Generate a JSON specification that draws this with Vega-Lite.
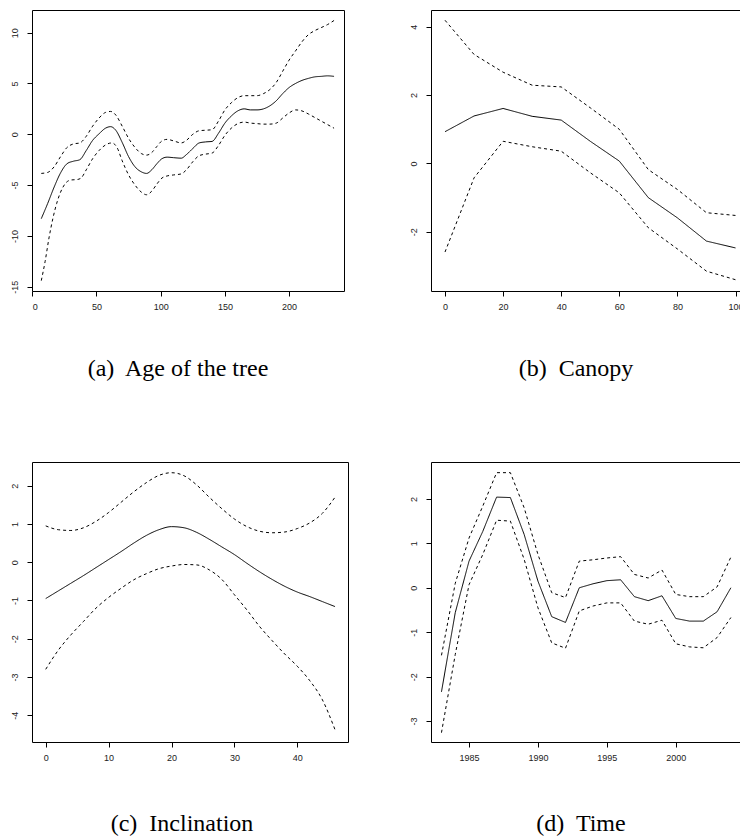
{
  "$schema": "https://vega.github.io/schema/vega-lite/v6.json",
  "background": "white",
  "padding": {"left": 9, "top": 9, "right": 0, "bottom": 0},
  "config": {
    "view": {"stroke": "black", "strokeWidth": 1},
    "axis": {"domain": false, "grid": false, "ticks": true, "tickColor": "black", "tickSize": 5, "labelFont": "Liberation Sans", "labelFontSize": 9, "labelColor": "#222", "labelPadding": 6},
    "axisY": {"labelAngle": -90, "labelAlign": "center", "labelBaseline": "bottom", "labelPadding": 8},
    "line": {"color": "black", "strokeWidth": 1}
  },
  "datasets": {
    "a": [
      {"x": 7, "y": -8.3, "s": "fit"}, {"x": 12, "y": -6.8, "s": "fit"}, {"x": 17, "y": -5.2, "s": "fit"}, {"x": 22, "y": -3.8, "s": "fit"}, {"x": 27, "y": -2.9, "s": "fit"}, {"x": 32, "y": -2.65, "s": "fit"}, {"x": 37, "y": -2.5, "s": "fit"}, {"x": 42, "y": -1.6, "s": "fit"}, {"x": 47, "y": -0.6, "s": "fit"}, {"x": 52, "y": 0.05, "s": "fit"}, {"x": 57, "y": 0.6, "s": "fit"}, {"x": 61, "y": 0.75, "s": "fit"}, {"x": 65, "y": 0.4, "s": "fit"}, {"x": 70, "y": -0.8, "s": "fit"}, {"x": 75, "y": -2.2, "s": "fit"}, {"x": 80, "y": -3.2, "s": "fit"}, {"x": 85, "y": -3.7, "s": "fit"}, {"x": 89, "y": -3.85, "s": "fit"}, {"x": 93, "y": -3.5, "s": "fit"}, {"x": 97, "y": -2.9, "s": "fit"}, {"x": 101, "y": -2.4, "s": "fit"}, {"x": 105, "y": -2.25, "s": "fit"}, {"x": 110, "y": -2.3, "s": "fit"}, {"x": 116, "y": -2.35, "s": "fit"}, {"x": 120, "y": -2.0, "s": "fit"}, {"x": 125, "y": -1.4, "s": "fit"}, {"x": 130, "y": -0.85, "s": "fit"}, {"x": 135, "y": -0.75, "s": "fit"}, {"x": 140, "y": -0.7, "s": "fit"}, {"x": 145, "y": 0.1, "s": "fit"}, {"x": 150, "y": 1.1, "s": "fit"}, {"x": 155, "y": 1.8, "s": "fit"}, {"x": 160, "y": 2.3, "s": "fit"}, {"x": 165, "y": 2.5, "s": "fit"}, {"x": 170, "y": 2.4, "s": "fit"}, {"x": 175, "y": 2.4, "s": "fit"}, {"x": 180, "y": 2.5, "s": "fit"}, {"x": 185, "y": 2.8, "s": "fit"}, {"x": 190, "y": 3.3, "s": "fit"}, {"x": 195, "y": 4.0, "s": "fit"}, {"x": 200, "y": 4.6, "s": "fit"}, {"x": 205, "y": 5.0, "s": "fit"}, {"x": 210, "y": 5.3, "s": "fit"}, {"x": 215, "y": 5.5, "s": "fit"}, {"x": 220, "y": 5.65, "s": "fit"}, {"x": 225, "y": 5.7, "s": "fit"}, {"x": 230, "y": 5.75, "s": "fit"}, {"x": 235, "y": 5.7, "s": "fit"},
      {"x": 7, "y": -3.85, "s": "upper"}, {"x": 12, "y": -3.75, "s": "upper"}, {"x": 17, "y": -3.2, "s": "upper"}, {"x": 22, "y": -2.2, "s": "upper"}, {"x": 27, "y": -1.3, "s": "upper"}, {"x": 32, "y": -0.95, "s": "upper"}, {"x": 37, "y": -0.85, "s": "upper"}, {"x": 42, "y": -0.2, "s": "upper"}, {"x": 47, "y": 0.8, "s": "upper"}, {"x": 52, "y": 1.6, "s": "upper"}, {"x": 57, "y": 2.15, "s": "upper"}, {"x": 61, "y": 2.25, "s": "upper"}, {"x": 65, "y": 1.9, "s": "upper"}, {"x": 70, "y": 0.8, "s": "upper"}, {"x": 75, "y": -0.4, "s": "upper"}, {"x": 80, "y": -1.3, "s": "upper"}, {"x": 85, "y": -1.9, "s": "upper"}, {"x": 89, "y": -2.05, "s": "upper"}, {"x": 93, "y": -1.8, "s": "upper"}, {"x": 97, "y": -1.2, "s": "upper"}, {"x": 101, "y": -0.65, "s": "upper"}, {"x": 105, "y": -0.5, "s": "upper"}, {"x": 110, "y": -0.65, "s": "upper"}, {"x": 116, "y": -0.85, "s": "upper"}, {"x": 120, "y": -0.6, "s": "upper"}, {"x": 125, "y": 0.0, "s": "upper"}, {"x": 130, "y": 0.35, "s": "upper"}, {"x": 135, "y": 0.4, "s": "upper"}, {"x": 140, "y": 0.45, "s": "upper"}, {"x": 145, "y": 1.3, "s": "upper"}, {"x": 150, "y": 2.4, "s": "upper"}, {"x": 155, "y": 3.1, "s": "upper"}, {"x": 160, "y": 3.6, "s": "upper"}, {"x": 165, "y": 3.8, "s": "upper"}, {"x": 170, "y": 3.8, "s": "upper"}, {"x": 175, "y": 3.8, "s": "upper"}, {"x": 180, "y": 4.0, "s": "upper"}, {"x": 185, "y": 4.4, "s": "upper"}, {"x": 190, "y": 5.1, "s": "upper"}, {"x": 195, "y": 6.2, "s": "upper"}, {"x": 200, "y": 7.3, "s": "upper"}, {"x": 205, "y": 8.2, "s": "upper"}, {"x": 210, "y": 9.1, "s": "upper"}, {"x": 215, "y": 9.8, "s": "upper"}, {"x": 220, "y": 10.2, "s": "upper"}, {"x": 225, "y": 10.5, "s": "upper"}, {"x": 230, "y": 10.8, "s": "upper"}, {"x": 235, "y": 11.2, "s": "upper"},
      {"x": 7, "y": -14.4, "s": "lower"}, {"x": 10, "y": -12.5, "s": "lower"}, {"x": 13, "y": -10.2, "s": "lower"}, {"x": 16, "y": -8.3, "s": "lower"}, {"x": 19, "y": -6.8, "s": "lower"}, {"x": 22, "y": -5.7, "s": "lower"}, {"x": 26, "y": -4.8, "s": "lower"}, {"x": 30, "y": -4.5, "s": "lower"}, {"x": 35, "y": -4.45, "s": "lower"}, {"x": 38, "y": -4.3, "s": "lower"}, {"x": 42, "y": -3.5, "s": "lower"}, {"x": 47, "y": -2.4, "s": "lower"}, {"x": 52, "y": -1.6, "s": "lower"}, {"x": 57, "y": -1.05, "s": "lower"}, {"x": 62, "y": -0.85, "s": "lower"}, {"x": 66, "y": -1.3, "s": "lower"}, {"x": 70, "y": -2.6, "s": "lower"}, {"x": 75, "y": -4.0, "s": "lower"}, {"x": 80, "y": -5.0, "s": "lower"}, {"x": 85, "y": -5.7, "s": "lower"}, {"x": 89, "y": -5.95, "s": "lower"}, {"x": 93, "y": -5.6, "s": "lower"}, {"x": 97, "y": -4.9, "s": "lower"}, {"x": 101, "y": -4.3, "s": "lower"}, {"x": 105, "y": -4.1, "s": "lower"}, {"x": 110, "y": -4.0, "s": "lower"}, {"x": 116, "y": -3.9, "s": "lower"}, {"x": 120, "y": -3.5, "s": "lower"}, {"x": 125, "y": -2.7, "s": "lower"}, {"x": 130, "y": -2.1, "s": "lower"}, {"x": 135, "y": -1.95, "s": "lower"}, {"x": 140, "y": -1.85, "s": "lower"}, {"x": 145, "y": -1.1, "s": "lower"}, {"x": 150, "y": -0.1, "s": "lower"}, {"x": 155, "y": 0.6, "s": "lower"}, {"x": 160, "y": 1.05, "s": "lower"}, {"x": 165, "y": 1.2, "s": "lower"}, {"x": 170, "y": 1.1, "s": "lower"}, {"x": 175, "y": 1.05, "s": "lower"}, {"x": 180, "y": 1.0, "s": "lower"}, {"x": 185, "y": 1.0, "s": "lower"}, {"x": 190, "y": 1.1, "s": "lower"}, {"x": 195, "y": 1.6, "s": "lower"}, {"x": 200, "y": 2.1, "s": "lower"}, {"x": 205, "y": 2.4, "s": "lower"}, {"x": 210, "y": 2.3, "s": "lower"}, {"x": 215, "y": 2.0, "s": "lower"}, {"x": 220, "y": 1.65, "s": "lower"}, {"x": 225, "y": 1.3, "s": "lower"}, {"x": 230, "y": 0.95, "s": "lower"}, {"x": 235, "y": 0.6, "s": "lower"}
    ],
    "b": [
      {"x": 0, "y": 0.93, "s": "fit"}, {"x": 10, "y": 1.39, "s": "fit"}, {"x": 20, "y": 1.61, "s": "fit"}, {"x": 30, "y": 1.38, "s": "fit"}, {"x": 40, "y": 1.27, "s": "fit"}, {"x": 50, "y": 0.65, "s": "fit"}, {"x": 60, "y": 0.07, "s": "fit"}, {"x": 70, "y": -1.0, "s": "fit"}, {"x": 80, "y": -1.59, "s": "fit"}, {"x": 90, "y": -2.27, "s": "fit"}, {"x": 100, "y": -2.47, "s": "fit"},
      {"x": 0, "y": 4.19, "s": "upper"}, {"x": 10, "y": 3.19, "s": "upper"}, {"x": 20, "y": 2.67, "s": "upper"}, {"x": 30, "y": 2.29, "s": "upper"}, {"x": 40, "y": 2.24, "s": "upper"}, {"x": 50, "y": 1.63, "s": "upper"}, {"x": 60, "y": 1.0, "s": "upper"}, {"x": 70, "y": -0.18, "s": "upper"}, {"x": 80, "y": -0.76, "s": "upper"}, {"x": 90, "y": -1.44, "s": "upper"}, {"x": 100, "y": -1.52, "s": "upper"},
      {"x": 0, "y": -2.59, "s": "lower"}, {"x": 10, "y": -0.42, "s": "lower"}, {"x": 20, "y": 0.65, "s": "lower"}, {"x": 30, "y": 0.49, "s": "lower"}, {"x": 40, "y": 0.36, "s": "lower"}, {"x": 50, "y": -0.27, "s": "lower"}, {"x": 60, "y": -0.86, "s": "lower"}, {"x": 70, "y": -1.88, "s": "lower"}, {"x": 80, "y": -2.5, "s": "lower"}, {"x": 90, "y": -3.15, "s": "lower"}, {"x": 100, "y": -3.4, "s": "lower"}
    ],
    "c": [
      {"x": 0, "y": -0.95, "s": "fit"}, {"x": 2, "y": -0.75, "s": "fit"}, {"x": 4, "y": -0.55, "s": "fit"}, {"x": 6, "y": -0.35, "s": "fit"}, {"x": 8, "y": -0.14, "s": "fit"}, {"x": 10, "y": 0.07, "s": "fit"}, {"x": 12, "y": 0.28, "s": "fit"}, {"x": 14, "y": 0.5, "s": "fit"}, {"x": 16, "y": 0.7, "s": "fit"}, {"x": 18, "y": 0.85, "s": "fit"}, {"x": 20, "y": 0.93, "s": "fit"}, {"x": 22, "y": 0.9, "s": "fit"}, {"x": 24, "y": 0.78, "s": "fit"}, {"x": 26, "y": 0.6, "s": "fit"}, {"x": 28, "y": 0.4, "s": "fit"}, {"x": 30, "y": 0.2, "s": "fit"}, {"x": 32, "y": -0.03, "s": "fit"}, {"x": 34, "y": -0.25, "s": "fit"}, {"x": 36, "y": -0.45, "s": "fit"}, {"x": 38, "y": -0.63, "s": "fit"}, {"x": 40, "y": -0.78, "s": "fit"}, {"x": 42, "y": -0.9, "s": "fit"}, {"x": 44, "y": -1.03, "s": "fit"}, {"x": 46, "y": -1.16, "s": "fit"},
      {"x": 0, "y": 0.95, "s": "upper"}, {"x": 2, "y": 0.85, "s": "upper"}, {"x": 4, "y": 0.83, "s": "upper"}, {"x": 6, "y": 0.9, "s": "upper"}, {"x": 8, "y": 1.07, "s": "upper"}, {"x": 10, "y": 1.3, "s": "upper"}, {"x": 12, "y": 1.57, "s": "upper"}, {"x": 14, "y": 1.84, "s": "upper"}, {"x": 16, "y": 2.08, "s": "upper"}, {"x": 18, "y": 2.27, "s": "upper"}, {"x": 20, "y": 2.34, "s": "upper"}, {"x": 22, "y": 2.26, "s": "upper"}, {"x": 24, "y": 2.02, "s": "upper"}, {"x": 26, "y": 1.7, "s": "upper"}, {"x": 28, "y": 1.4, "s": "upper"}, {"x": 30, "y": 1.13, "s": "upper"}, {"x": 32, "y": 0.93, "s": "upper"}, {"x": 34, "y": 0.81, "s": "upper"}, {"x": 36, "y": 0.77, "s": "upper"}, {"x": 38, "y": 0.79, "s": "upper"}, {"x": 40, "y": 0.88, "s": "upper"}, {"x": 42, "y": 1.03, "s": "upper"}, {"x": 44, "y": 1.28, "s": "upper"}, {"x": 46, "y": 1.7, "s": "upper"},
      {"x": 0, "y": -2.8, "s": "lower"}, {"x": 2, "y": -2.3, "s": "lower"}, {"x": 4, "y": -1.9, "s": "lower"}, {"x": 6, "y": -1.55, "s": "lower"}, {"x": 8, "y": -1.2, "s": "lower"}, {"x": 10, "y": -0.92, "s": "lower"}, {"x": 12, "y": -0.68, "s": "lower"}, {"x": 14, "y": -0.46, "s": "lower"}, {"x": 16, "y": -0.3, "s": "lower"}, {"x": 18, "y": -0.17, "s": "lower"}, {"x": 20, "y": -0.1, "s": "lower"}, {"x": 22, "y": -0.06, "s": "lower"}, {"x": 24, "y": -0.07, "s": "lower"}, {"x": 26, "y": -0.2, "s": "lower"}, {"x": 28, "y": -0.45, "s": "lower"}, {"x": 30, "y": -0.85, "s": "lower"}, {"x": 32, "y": -1.25, "s": "lower"}, {"x": 34, "y": -1.68, "s": "lower"}, {"x": 36, "y": -2.05, "s": "lower"}, {"x": 38, "y": -2.4, "s": "lower"}, {"x": 40, "y": -2.72, "s": "lower"}, {"x": 42, "y": -3.1, "s": "lower"}, {"x": 44, "y": -3.6, "s": "lower"}, {"x": 46, "y": -4.38, "s": "lower"}
    ],
    "d": [
      {"x": 1983, "y": -2.34, "s": "fit"}, {"x": 1984, "y": -0.56, "s": "fit"}, {"x": 1985, "y": 0.6, "s": "fit"}, {"x": 1986, "y": 1.27, "s": "fit"}, {"x": 1987, "y": 2.04, "s": "fit"}, {"x": 1988, "y": 2.03, "s": "fit"}, {"x": 1989, "y": 1.2, "s": "fit"}, {"x": 1990, "y": 0.15, "s": "fit"}, {"x": 1991, "y": -0.65, "s": "fit"}, {"x": 1992, "y": -0.78, "s": "fit"}, {"x": 1993, "y": 0.0, "s": "fit"}, {"x": 1994, "y": 0.09, "s": "fit"}, {"x": 1995, "y": 0.16, "s": "fit"}, {"x": 1996, "y": 0.18, "s": "fit"}, {"x": 1997, "y": -0.2, "s": "fit"}, {"x": 1998, "y": -0.29, "s": "fit"}, {"x": 1999, "y": -0.18, "s": "fit"}, {"x": 2000, "y": -0.69, "s": "fit"}, {"x": 2001, "y": -0.75, "s": "fit"}, {"x": 2002, "y": -0.75, "s": "fit"}, {"x": 2003, "y": -0.54, "s": "fit"}, {"x": 2004, "y": 0.0, "s": "fit"},
      {"x": 1983, "y": -1.52, "s": "upper"}, {"x": 1984, "y": 0.1, "s": "upper"}, {"x": 1985, "y": 1.12, "s": "upper"}, {"x": 1986, "y": 1.84, "s": "upper"}, {"x": 1987, "y": 2.59, "s": "upper"}, {"x": 1988, "y": 2.59, "s": "upper"}, {"x": 1989, "y": 1.8, "s": "upper"}, {"x": 1990, "y": 0.75, "s": "upper"}, {"x": 1991, "y": -0.11, "s": "upper"}, {"x": 1992, "y": -0.22, "s": "upper"}, {"x": 1993, "y": 0.6, "s": "upper"}, {"x": 1994, "y": 0.63, "s": "upper"}, {"x": 1995, "y": 0.67, "s": "upper"}, {"x": 1996, "y": 0.7, "s": "upper"}, {"x": 1997, "y": 0.3, "s": "upper"}, {"x": 1998, "y": 0.22, "s": "upper"}, {"x": 1999, "y": 0.4, "s": "upper"}, {"x": 2000, "y": -0.15, "s": "upper"}, {"x": 2001, "y": -0.2, "s": "upper"}, {"x": 2002, "y": -0.2, "s": "upper"}, {"x": 2003, "y": 0.02, "s": "upper"}, {"x": 2004, "y": 0.69, "s": "upper"},
      {"x": 1983, "y": -3.26, "s": "lower"}, {"x": 1984, "y": -1.5, "s": "lower"}, {"x": 1985, "y": 0.07, "s": "lower"}, {"x": 1986, "y": 0.75, "s": "lower"}, {"x": 1987, "y": 1.52, "s": "lower"}, {"x": 1988, "y": 1.5, "s": "lower"}, {"x": 1989, "y": 0.64, "s": "lower"}, {"x": 1990, "y": -0.45, "s": "lower"}, {"x": 1991, "y": -1.24, "s": "lower"}, {"x": 1992, "y": -1.36, "s": "lower"}, {"x": 1993, "y": -0.52, "s": "lower"}, {"x": 1994, "y": -0.41, "s": "lower"}, {"x": 1995, "y": -0.34, "s": "lower"}, {"x": 1996, "y": -0.34, "s": "lower"}, {"x": 1997, "y": -0.75, "s": "lower"}, {"x": 1998, "y": -0.82, "s": "lower"}, {"x": 1999, "y": -0.73, "s": "lower"}, {"x": 2000, "y": -1.26, "s": "lower"}, {"x": 2001, "y": -1.33, "s": "lower"}, {"x": 2002, "y": -1.35, "s": "lower"}, {"x": 2003, "y": -1.12, "s": "lower"}, {"x": 2004, "y": -0.67, "s": "lower"}
    ]
  },
  "bounds": "flush",
  "columns": 2,
  "spacing": {"row": 171, "column": 83},
  "concat": [
    {
      "width": 312, "height": 281,
      "data": {"name": "a"},
      "title": {"text": "(a)\u00a0 Age of the tree", "orient": "bottom", "offset": 46, "dx": -10, "font": "Liberation Serif", "fontSize": 24, "fontWeight": "normal", "color": "black"},
      "mark": {"type": "line", "interpolate": "monotone"},
      "encoding": {
        "x": {"field": "x", "type": "quantitative", "scale": {"domain": [-0.23, 242.75], "nice": false, "zero": false}, "axis": {"values": [0, 50, 100, 150, 200], "title": null, "labelExpr": "'' + datum.value"}},
        "y": {"field": "y", "type": "quantitative", "scale": {"domain": [-15.42, 12.23], "nice": false, "zero": false}, "axis": {"values": [-15, -10, -5, 0, 5, 10], "title": null, "labelExpr": "'' + datum.value"}},
        "detail": {"field": "s", "type": "nominal"},
        "strokeDash": {"field": "s", "type": "nominal", "scale": {"domain": ["fit", "upper", "lower"], "range": [[1, 0], [3, 3], [3, 3]]}, "legend": null}
      }
    },
    {
      "width": 314, "height": 281,
      "data": {"name": "b"},
      "title": {"text": "(b)\u00a0 Canopy", "orient": "bottom", "offset": 46, "dx": -12, "font": "Liberation Serif", "fontSize": 24, "fontWeight": "normal", "color": "black"},
      "mark": {"type": "line"},
      "encoding": {
        "x": {"field": "x", "type": "quantitative", "scale": {"domain": [-4.82, 103.27], "nice": false, "zero": false}, "axis": {"values": [0, 20, 40, 60, 80, 100], "title": null, "labelExpr": "'' + datum.value"}},
        "y": {"field": "y", "type": "quantitative", "scale": {"domain": [-3.73, 4.49], "nice": false, "zero": false}, "axis": {"values": [-2, 0, 2, 4], "title": null, "labelExpr": "'' + datum.value"}},
        "detail": {"field": "s", "type": "nominal"},
        "strokeDash": {"field": "s", "type": "nominal", "scale": {"domain": ["fit", "upper", "lower"], "range": [[1, 0], [3, 3], [3, 3]]}, "legend": null}
      }
    },
    {
      "width": 316, "height": 280,
      "data": {"name": "c"},
      "title": {"text": "(c)\u00a0 Inclination", "orient": "bottom", "offset": 50, "dx": -8, "font": "Liberation Serif", "fontSize": 24, "fontWeight": "normal", "color": "black"},
      "mark": {"type": "line", "interpolate": "monotone"},
      "encoding": {
        "x": {"field": "x", "type": "quantitative", "scale": {"domain": [-2.18, 48.06], "nice": false, "zero": false}, "axis": {"values": [0, 10, 20, 30, 40], "title": null, "labelExpr": "'' + datum.value"}},
        "y": {"field": "y", "type": "quantitative", "scale": {"domain": [-4.7, 2.62], "nice": false, "zero": false}, "axis": {"values": [-4, -3, -2, -1, 0, 1, 2], "title": null, "labelExpr": "'' + datum.value"}},
        "detail": {"field": "s", "type": "nominal"},
        "strokeDash": {"field": "s", "type": "nominal", "scale": {"domain": ["fit", "upper", "lower"], "range": [[1, 0], [3, 3], [3, 3]]}, "legend": null}
      }
    },
    {
      "width": 312, "height": 280,
      "data": {"name": "d"},
      "title": {"text": "(d)\u00a0 Time", "orient": "bottom", "offset": 50, "dx": -6, "font": "Liberation Serif", "fontSize": 24, "fontWeight": "normal", "color": "black"},
      "mark": {"type": "line"},
      "encoding": {
        "x": {"field": "x", "type": "quantitative", "scale": {"domain": [1982.24, 2004.88], "nice": false, "zero": false}, "axis": {"values": [1985, 1990, 1995, 2000], "title": null, "labelExpr": "'' + datum.value"}},
        "y": {"field": "y", "type": "quantitative", "scale": {"domain": [-3.47, 2.83], "nice": false, "zero": false}, "axis": {"values": [-3, -2, -1, 0, 1, 2], "title": null, "labelExpr": "'' + datum.value"}},
        "detail": {"field": "s", "type": "nominal"},
        "strokeDash": {"field": "s", "type": "nominal", "scale": {"domain": ["fit", "upper", "lower"], "range": [[1, 0], [3, 3], [3, 3]]}, "legend": null}
      }
    }
  ]
}
